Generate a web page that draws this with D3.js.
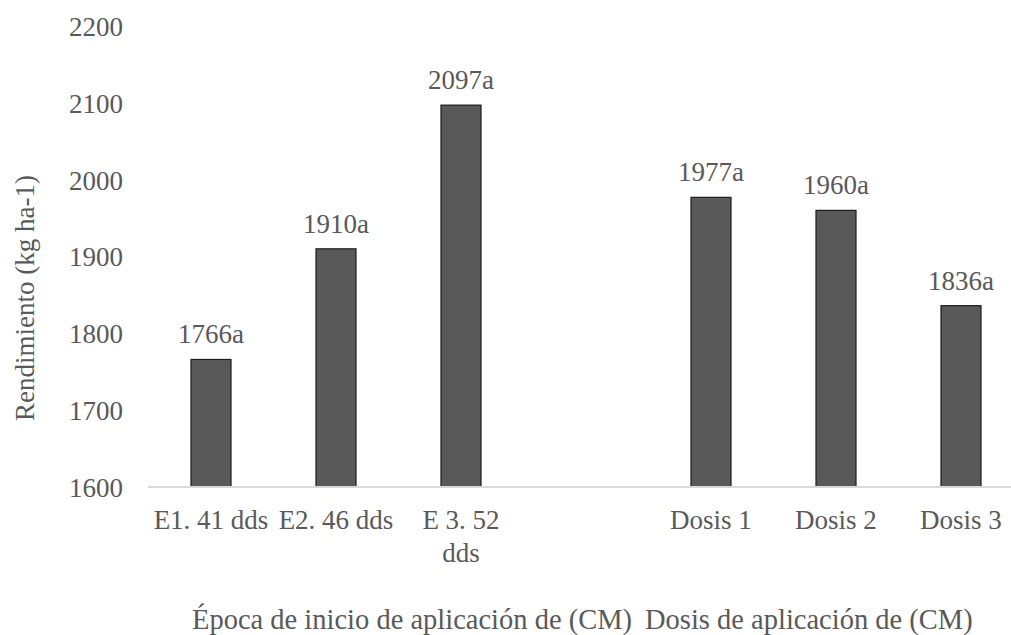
<!DOCTYPE html>
<html>
<head>
<meta charset="utf-8">
<script src="https://cdn.jsdelivr.net/npm/d3@7"></script>
<style>
  html, body { margin: 0; padding: 0; background: #fff; }
  svg { display: block; }
  svg text { font-family: "Liberation Serif", "Times New Roman", Times, "DejaVu Serif", serif !important; fill: #595959; }
</style>
</head>
<body>
<svg id="chart" width="1011" height="635"></svg>
<script>
// Categories: three application timings, an empty gap slot, three doses
const categories = ["E1", "E2", "E3", "gap", "D1", "D2", "D3"];
const categoryLabels = [["E1. 41 dds"], ["E2. 46 dds"], ["E 3. 52", "dds"], [], ["Dosis 1"], ["Dosis 2"], ["Dosis 3"]];
const yieldValues = [1766, 1910, 2097, null, 1977, 1960, 1836];
const significance = ["a", "a", "a", "", "a", "a", "a"];
const yTicks = [1600, 1700, 1800, 1900, 2000, 2100, 2200];
const groupTitles = ["Época de inicio de aplicación de (CM)", "Dosis de aplicación de (CM)"];
const yTitle = "Rendimiento (kg ha-1)";

const serif = "'Liberation Serif', 'Times New Roman', Times, 'DejaVu Serif', serif";
const svg = d3.select("#chart").attr("font-family", serif);
const fontSize = 27;

const x = d3.scaleBand()
  .domain(categories)
  .range([148.5, 1023.5])
  .paddingInner(0.68)
  .paddingOuter(0.34);

const y = d3.scaleLinear()
  .domain([1600, 2200])
  .range([487, 26]);

// Y tick labels (no axis line or gridlines)
const yAxis = d3.axisLeft(y).tickValues(yTicks).tickSize(0).tickPadding(0).tickFormat(d3.format("d"));
const yG = svg.append("g").attr("transform", "translate(123,0)").call(yAxis)
  .attr("font-family", serif);
yG.select(".domain").remove();
yG.selectAll("text")
  .attr("font-size", fontSize)
  .attr("fill", "#595959")
  .attr("dy", "0.35em");

// Bars
const data = categories.map((c, i) => ({ c, v: yieldValues[i], s: significance[i], lines: categoryLabels[i] }));
const barData = data.filter(d => d.v !== null);

svg.append("g").selectAll("rect")
  .data(barData)
  .join("rect")
  .attr("x", d => x(d.c))
  .attr("y", d => y(d.v))
  .attr("width", x.bandwidth())
  .attr("height", d => y(1600) - y(d.v))
  .attr("fill", "#595959")
  .attr("stroke", "#1c1c1c")
  .attr("stroke-width", 1.2);

// Category axis line
svg.append("line")
  .attr("x1", 148).attr("x2", 1011)
  .attr("y1", y(1600)).attr("y2", y(1600))
  .attr("stroke", "#d9d9d9")
  .attr("stroke-width", 2);

// Value labels
svg.append("g").selectAll("text")
  .data(barData)
  .join("text")
  .attr("x", d => x(d.c) + x.bandwidth() / 2)
  .attr("y", d => y(d.v) - 16)
  .attr("text-anchor", "middle")
  .attr("font-size", fontSize)
  .text(d => d.v + d.s);

// Category labels
const catG = svg.append("g").selectAll("text")
  .data(data)
  .join("text")
  .attr("x", d => x(d.c) + x.bandwidth() / 2)
  .attr("y", 529)
  .attr("text-anchor", "middle")
  .attr("font-size", fontSize);
catG.selectAll("tspan")
  .data(d => d.lines.map(l => ({ l, cx: x(d.c) + x.bandwidth() / 2 })))
  .join("tspan")
  .attr("x", d => d.cx)
  .attr("dy", (d, i) => i === 0 ? 0 : 33)
  .text(d => d.l);

// Group titles under each block of bars
svg.append("text")
  .attr("x", 632).attr("y", 629)
  .attr("text-anchor", "end")
  .attr("font-size", 28.5)
  .text(groupTitles[0]);
svg.append("text")
  .attr("x", 645).attr("y", 629)
  .attr("text-anchor", "start")
  .attr("font-size", 28.5)
  .text(groupTitles[1]);

// Y axis title
svg.append("text")
  .attr("transform", "translate(34,298) rotate(-90)")
  .attr("text-anchor", "middle")
  .attr("font-size", fontSize)
  .text(yTitle);
</script>
</body>
</html>
